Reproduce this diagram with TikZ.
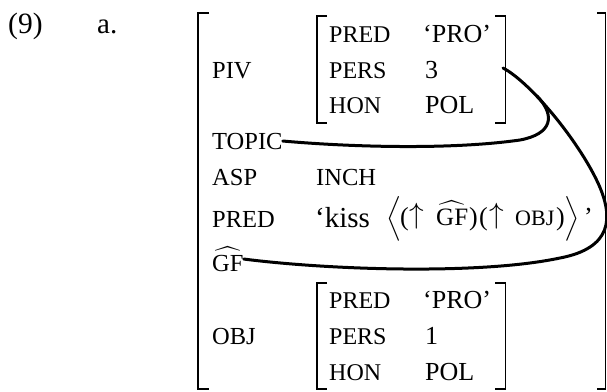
\RequirePackage{fix-cm}
\documentclass[tikz,border=0pt]{standalone}
\usepackage{amsmath}
\usepackage{graphicx}
\usepackage{fontspec}
\setmainfont{Liberation Serif}
\begin{document}
\begin{tikzpicture}[x=1pt,y=-1pt,
  lab/.style={anchor=base west,inner sep=0pt,font=\fontsize{24.5}{26}\selectfont},
  ilab/.style={anchor=base west,inner sep=0pt,font=\fontsize{24}{26}\selectfont},
  val/.style={anchor=base west,inner sep=0pt,font=\fontsize{26}{28}\selectfont},
  fpart/.style={anchor=base west,inner sep=0pt,font=\fontsize{26}{28}\selectfont},
  brk/.style={line width=1.2pt},
  link/.style={line width=3pt,line cap=round}]
\useasboundingbox (0,0) rectangle (607,391);
% example number
\node[anchor=base west,inner sep=0pt,font=\fontsize{29.5}{31}\selectfont] (num) at (8,33) {(9)};
\node[anchor=base west,inner sep=0pt,font=\fontsize{29}{31}\selectfont] (suba) at (97,33) {a.};
% outer brackets
\draw[brk] (209,13) -- (198,13) -- (198,389) -- (209,389);
\draw[brk] (597,13) -- (605.8,13) -- (605.8,389) -- (597,389);
% inner brackets 1
\draw[brk] (327,16) -- (317,16) -- (317,123) -- (327,123);
\draw[brk] (495,16) -- (505.5,16) -- (505.5,123) -- (495,123);
% inner brackets 2
\draw[brk] (327,283) -- (317,283) -- (317,389) -- (327,389);
\draw[brk] (495,283) -- (505.5,283) -- (505.5,389) -- (495,389);
% outer labels
\node[lab] (piv) at (212,78) {PIV};
\node[lab] (topic) at (212,149) {TOPIC};
\node[lab] (asp) at (212,185) {ASP};
\node[lab] (pred) at (212,227) {PRED};
\node[lab] (gf) at (212,271) {$\widehat{\mbox{GF}}$};
\node[lab] (obj) at (212,344) {OBJ};
% outer values
\node[lab] (inch) at (316,185) {INCH};
\node[anchor=base west,inner sep=0pt,font=\fontsize{29}{31}\selectfont] (kiss) at (315,227) {‘kiss};
% argument list
\node[fpart] (lang) at (386,225) {$\left\langle\vrule height 31pt depth 16pt width 0pt\right.$};
\node[fpart] (lpa) at (400,225) {(};
\node[fpart] (upa) at (409,223) {\resizebox*{!}{26pt}{$\uparrow$}};
\node[fpart,font=\fontsize{25}{27}\selectfont] (gfa) at (436,225) {$\widehat{\mbox{GF}}$};
\node[fpart] (rpa) at (469,225) {)};
\node[fpart] (lpb) at (479,225) {(};
\node[fpart] (upb) at (489,223) {\resizebox*{!}{26pt}{$\uparrow$}};
\node[fpart,font=\fontsize{22}{24}\selectfont] (objb) at (515,225) {OBJ};
\node[fpart] (rpb) at (556,225) {)};
\node[fpart] (rang) at (563,225) {$\left.\vrule height 31pt depth 16pt width 0pt\right\rangle$};
\node[fpart] (quo) at (584,225) {’};
% inner 1
\node[ilab] (p1) at (329,42) {PRED};
\node[ilab] (s1) at (329,78) {PERS};
\node[ilab] (h1) at (329,113) {HON};
\node[val] (pro1) at (423,42) {‘PRO’};
\node[val] (three) at (425,78) {3};
\node[val] (pol1) at (425,113) {POL};
% inner 2
\node[ilab] (p2) at (329,308) {PRED};
\node[ilab] (s2) at (329,344) {PERS};
\node[ilab] (h2) at (329,380) {HON};
\node[val] (pro2) at (423,308) {‘PRO’};
\node[val] (one) at (425,344) {1};
\node[val] (pol2) at (425,380) {POL};
% links
\coordinate (a0) at (503,68);
\draw[link] (a0)
  .. controls (530,82) and (578,140) .. (598,183)
  .. controls (614,218) and (612,248) .. (560,258)
  .. controls (480,275) and (330,270) .. (gf.east);
\draw[link] (topic.east)
  .. controls (350,147) and (450,150) .. (520,140)
  .. controls (552,134) and (556,116) .. (537,96);
\end{tikzpicture}
\end{document}
